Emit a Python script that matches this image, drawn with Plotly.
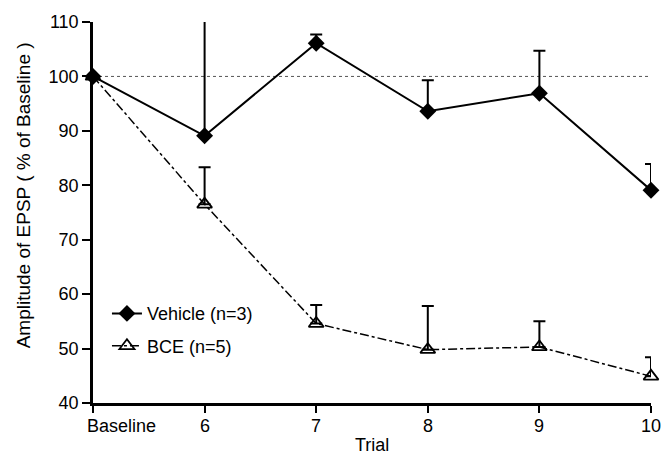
import plotly.graph_objects as go

trials = ["Baseline", "6", "7", "8", "9", "10"]
vehicle = [100, 89.1, 106.1, 93.6, 96.9, 79.1]
vehicle_err = [0, 21.6, 1.6, 5.7, 7.8, 4.8]
bce = [100, 76.5, 54.6, 49.8, 50.3, 44.9]
bce_err = [0, 6.8, 3.4, 8.0, 4.7, 3.5]

FONT = "Liberation Sans, Arial, sans-serif"
FS = 18

fig = go.Figure()
fig.add_trace(go.Scatter(
    x=trials, y=[100] * len(trials), mode="lines",
    line=dict(color="#555", width=1, dash="dot"), showlegend=False, hoverinfo="skip"))
fig.add_trace(go.Scatter(
    x=trials, y=bce, mode="lines+markers", name="BCE (n=5)", legendgroup="b",
    legendrank=2,
    line=dict(color="black", width=1.5, dash="dashdot"),
    marker=dict(symbol="triangle-up-open", size=13, color="black", line=dict(width=1.8)),
    error_y=dict(type="data", symmetric=False, array=bce_err, arrayminus=[0] * 6,
                 color="black", thickness=2, width=6),
    cliponaxis=False))
fig.add_trace(go.Scatter(
    x=trials, y=vehicle, mode="lines+markers", name="Vehicle (n=3)", legendgroup="a",
    legendrank=1,
    line=dict(color="black", width=2),
    marker=dict(symbol="diamond", size=13, color="black"),
    error_y=dict(type="data", symmetric=False, array=vehicle_err, arrayminus=[0] * 6,
                 color="black", thickness=2, width=6),
    cliponaxis=False))

for i, t in enumerate(trials):
    fig.add_annotation(x=i, y=0, yref="paper", text=t, showarrow=False,
                       xanchor="left" if i == 0 else "center", xshift=-8 if i == 0 else 0,
                       yanchor="top", yshift=-11,
                       font=dict(family=FONT, size=FS, color="black"))

fig.add_annotation(x=0.5, xref="paper", y=0, yref="paper", text="Trial", showarrow=False,
                   xanchor="center", yanchor="middle", yshift=-42,
                   font=dict(family=FONT, size=FS, color="black"))
fig.add_annotation(x=0, xref="paper", y=0.545, yref="paper",
                   text="Amplitude of EPSP ( % of Baseline )", showarrow=False,
                   textangle=-90, xanchor="center", yanchor="middle", xshift=-70,
                   font=dict(family=FONT, size=19, color="black"))

fig.update_layout(
    width=671, height=459,
    margin=dict(l=93, r=20, t=16, b=56),
    paper_bgcolor="white", plot_bgcolor="white",
    font=dict(family=FONT, size=FS, color="black"),
    legend=dict(x=0.025, y=0.283, xanchor="left", yanchor="top",
                traceorder="grouped", tracegroupgap=6,
                bgcolor="rgba(0,0,0,0)", font=dict(size=FS), itemwidth=30),
    xaxis=dict(type="category", range=[0, 5], showgrid=False, zeroline=False,
               showline=True, linecolor="black", linewidth=2.5,
               ticks="outside", ticklen=7, tickwidth=2, tickcolor="black",
               showticklabels=False),
    yaxis=dict(range=[40, 110], tickvals=[40, 50, 60, 70, 80, 90, 100, 110],
               showgrid=False, zeroline=False,
               showline=True, linecolor="black", linewidth=2.5,
               ticks="outside", ticklen=8, tickwidth=2, tickcolor="black",
               tickfont=dict(size=FS)),
)

fig.write_html("out.html")
